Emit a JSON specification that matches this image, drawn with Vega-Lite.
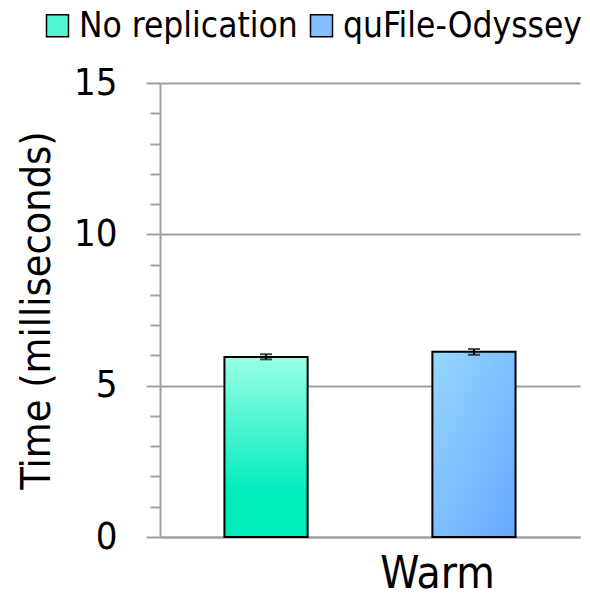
{
  "$schema": "https://vega.github.io/schema/vega-lite/v6.json",
  "width": 420,
  "height": 454,
  "autosize": {"type": "none"},
  "padding": {"left": 160, "top": 83, "right": 10, "bottom": 63},
  "config": {
    "view": {"stroke": null},
    "font": "DejaVu Sans Condensed"
  },
  "data": {
    "values": [
      {"series": "No replication", "value": 5.95, "lo": 5.87, "hi": 6.04},
      {"series": "quFile-Odyssey", "value": 6.12, "lo": 6.02, "hi": 6.21}
    ]
  },
  "encoding": {
    "x": {
      "field": "series",
      "type": "nominal",
      "sort": ["No replication", "quFile-Odyssey"],
      "scale": {"paddingInner": 0.6, "paddingOuter": 0.31},
      "axis": {
        "labels": false,
        "ticks": false,
        "domainColor": "#A0A0A0",
        "domainWidth": 2,
        "title": "Warm",
        "titleFontSize": 44,
        "titleFontWeight": "normal",
        "titleColor": "black",
        "titleX": 277,
        "titleY": 50,
        "titleAlign": "center",
        "titleBaseline": "alphabetic"
      }
    }
  },
  "layer": [
    {
      "mark": {"type": "bar", "opacity": 0},
      "encoding": {
        "y": {
          "field": "value",
          "type": "quantitative",
          "scale": {"domain": [0, 15], "nice": false},
          "axis": {
            "values": [0, 5, 10, 15],
            "grid": true,
            "gridColor": "#A0A0A0",
            "gridWidth": 2,
            "domainColor": "#A0A0A0",
            "domainWidth": 2,
            "tickColor": "#A0A0A0",
            "tickWidth": 2,
            "tickSize": 14,
            "labelFontSize": 38,
            "labelColor": "black",
            "labelPadding": 29,
            "title": "Time (milliseconds)",
            "titleFontSize": 41,
            "titleFontWeight": "normal",
            "titleColor": "black",
            "titlePadding": 15
          }
        },
        "fill": {
          "field": "series",
          "type": "nominal",
          "sort": ["No replication", "quFile-Odyssey"],
          "scale": {"range": ["#4DF5D0", "#80C0FF"]},
          "legend": {
            "orient": "none",
            "legendX": -120,
            "legendY": -75,
            "direction": "horizontal",
            "title": null,
            "symbolType": "square",
            "symbolSize": 484,
            "symbolStrokeColor": "black",
            "symbolStrokeWidth": 1.5,
            "symbolOpacity": 1,
            "labelFontSize": 35,
            "labelColor": "black",
            "labelOffset": 4,
            "labelLimit": 400,
            "columnPadding": 6,
            "encode": {
              "symbols": {
                "update": {
                  "fill": {"signal": "datum.value === 'No replication' ? {gradient: 'linear', x1: 0, y1: 0, x2: 0, y2: 1, stops: [{offset: 0, color: '#9AFFE5'}, {offset: 1, color: '#00ECBD'}]} : {gradient: 'linear', x1: 0, y1: 0, x2: 1, y2: 1, stops: [{offset: 0, color: '#96D7FF'}, {offset: 1, color: '#66A8FF'}]}"},
                  "stroke": {"value": "black"},
                  "strokeWidth": {"value": 1.5},
                  "opacity": {"value": 1},
                  "strokeOpacity": {"value": 1},
                  "fillOpacity": {"value": 1}
                }
              }
            }
          }
        }
      }
    },
    {
      "transform": [{"filter": "datum.series === 'No replication'"}],
      "mark": {
        "type": "bar",
        "stroke": "black",
        "strokeWidth": 2,
        "fill": {"gradient": "linear", "x1": 0, "y1": 0, "x2": 0, "y2": 1,
          "stops": [
            {"offset": 0, "color": "#9AFFE5"},
            {"offset": 0.75, "color": "#00ECBD"},
            {"offset": 1, "color": "#00ECBD"}
          ]}
      },
      "encoding": {
        "y": {"field": "value", "type": "quantitative", "axis": null}
      }
    },
    {
      "transform": [{"filter": "datum.series === 'quFile-Odyssey'"}],
      "mark": {
        "type": "bar",
        "stroke": "black",
        "strokeWidth": 2,
        "fill": {"gradient": "linear", "x1": 0, "y1": 0, "x2": 1, "y2": 1,
          "stops": [
            {"offset": 0, "color": "#96D7FF"},
            {"offset": 1, "color": "#66A8FF"}
          ]}
      },
      "encoding": {
        "y": {"field": "value", "type": "quantitative", "axis": null}
      }
    },
    {
      "mark": {
        "type": "errorbar",
        "ticks": {"size": 12, "thickness": 2, "color": "black"},
        "rule": {"strokeWidth": 2, "color": "black"},
        "color": "black"
      },
      "encoding": {
        "y": {
          "field": "lo",
          "type": "quantitative",
          "axis": {
            "orient": "left",
            "values": [1, 2, 3, 4, 6, 7, 8, 9, 11, 12, 13, 14],
            "labels": false,
            "domain": false,
            "grid": false,
            "title": null,
            "tickSize": 10,
            "tickColor": "#A0A0A0",
            "tickWidth": 2
          }
        },
        "y2": {"field": "hi"}
      }
    }
  ],
  "resolve": {"axis": {"y": "independent"}}
}
